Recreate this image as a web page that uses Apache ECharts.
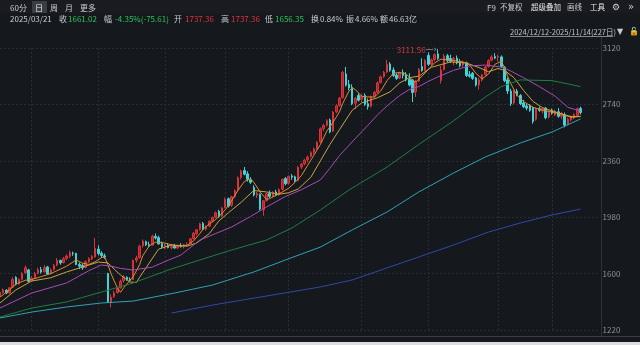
<!DOCTYPE html>
<html>
<head>
<meta charset="utf-8">
<script src="https://cdn.jsdelivr.net/npm/echarts@6/dist/echarts.min.js"></script>
<style>
  html, body { margin: 0; padding: 0; background: #15181d; }
  #chart { width: 640px; height: 345px; }
</style>
</head>
<body>
<div id="chart"></div>
<script>
// Trading days shown on the daily K-line
const categories = [
  '2025/02/17','2025/02/18','2025/02/19','2025/02/20','2025/02/21','2025/02/24','2025/02/25','2025/02/26','2025/02/27','2025/02/28',
  '2025/03/03','2025/03/04','2025/03/05','2025/03/06','2025/03/07','2025/03/10','2025/03/11','2025/03/12','2025/03/13','2025/03/14',
  '2025/03/17','2025/03/18','2025/03/19','2025/03/20','2025/03/21','2025/03/24','2025/03/25','2025/03/26','2025/03/27','2025/03/28','2025/03/31',
  '2025/04/01','2025/04/02','2025/04/03','2025/04/07','2025/04/08','2025/04/09','2025/04/10','2025/04/11','2025/04/14','2025/04/15',
  '2025/04/16','2025/04/17','2025/04/18','2025/04/21','2025/04/22','2025/04/23','2025/04/24','2025/04/25','2025/04/28','2025/04/29','2025/04/30',
  '2025/05/06','2025/05/07','2025/05/08','2025/05/09','2025/05/12','2025/05/13','2025/05/14','2025/05/15','2025/05/16','2025/05/19',
  '2025/05/20','2025/05/21','2025/05/22','2025/05/23','2025/05/26','2025/05/27','2025/05/28','2025/05/29','2025/05/30',
  '2025/06/03','2025/06/04','2025/06/05','2025/06/06','2025/06/09','2025/06/10','2025/06/11','2025/06/12','2025/06/13','2025/06/16',
  '2025/06/17','2025/06/18','2025/06/19','2025/06/20','2025/06/23','2025/06/24','2025/06/25','2025/06/26','2025/06/27','2025/06/30',
  '2025/07/01','2025/07/02','2025/07/03','2025/07/04','2025/07/07','2025/07/08','2025/07/09','2025/07/10','2025/07/11','2025/07/14',
  '2025/07/15','2025/07/16','2025/07/17','2025/07/18','2025/07/21','2025/07/22','2025/07/23','2025/07/24','2025/07/25','2025/07/28',
  '2025/07/29','2025/07/30','2025/07/31',
  '2025/08/01','2025/08/04','2025/08/05','2025/08/06','2025/08/07','2025/08/08','2025/08/11','2025/08/12','2025/08/13','2025/08/14',
  '2025/08/15','2025/08/18','2025/08/19','2025/08/20','2025/08/21','2025/08/22','2025/08/25','2025/08/26','2025/08/27','2025/08/28','2025/08/29',
  '2025/09/01','2025/09/02','2025/09/03','2025/09/04','2025/09/05','2025/09/08','2025/09/09','2025/09/10','2025/09/11','2025/09/12',
  '2025/09/15','2025/09/16','2025/09/17','2025/09/18','2025/09/19','2025/09/22','2025/09/23','2025/09/24','2025/09/25','2025/09/26',
  '2025/09/29','2025/09/30',
  '2025/10/09','2025/10/10','2025/10/13','2025/10/14','2025/10/15','2025/10/16','2025/10/17','2025/10/20','2025/10/21','2025/10/22',
  '2025/10/23','2025/10/24','2025/10/27','2025/10/28','2025/10/29','2025/10/30','2025/10/31',
  '2025/11/03','2025/11/04','2025/11/05','2025/11/06','2025/11/07','2025/11/10','2025/11/11','2025/11/12','2025/11/13','2025/11/14'
];

// Daily open / close / low / high
const opens = [
  1450,1472,1488,1470,1508,1575,1530,1562,1605,1625, 1550,1572,1602,1628,1612,1645,1600,1628,1658,1688,
  1675,1702,1716,1738,1737.36,1662,1655,1642,1680,1700, 1712,1765,1738,1720,1600,1405,1445,1472,1505,1552,
  1575,1562,1560,1690,1708,1788,1815,1796,1792,1850, 1842,1802,1782,1788,1776,1785,1773,1790,1783,1796,
  1802,1836,1870,1898,1938,1900,1920,1955,1980,2020, 1988,2045,2105,2060,2120,2162,2248,2295,2272,2230,
  2180,2128,2135,2030,2092,2140,2122,2150,2130,2168, 2240,2208,2258,2252,2228,2318,2340,2368,2390,2418,
  2442,2488,2578,2600,2635,2560,2690,2732,2785,2945, 2875,2855,2748,2800,2775,2800,2745,2728,2795,2822,
  2888,2928,2958,3012,2972,2938,2918,2955,2938,2910, 2905,2825,2898,2995,2970,3070,3012,3042,3080,2900,
  2975,3068,3050,3032,3052,3030,3005,3020,2940,2950, 2918,2872,2905,2940,2995,3038,3062,3058,3060,2990,
  2905,2830,2750,2830,2800,2750,2730,2735,2720,2640, 2710,2695,2715,2655,2700,2668,2690,2660,2670,2610,
  2635,2650,2665,2712
];
const closes = [
  1475,1490,1470,1505,1560,1528,1560,1600,1640,1548, 1570,1600,1625,1610,1640,1598,1625,1655,1690,1672,
  1700,1718,1740,1736.63,1661.02,1650,1640,1680,1702,1715, 1770,1735,1722,1712,1410,1440,1470,1500,1548,1578,
  1560,1555,1688,1705,1785,1818,1795,1790,1852,1840, 1800,1780,1790,1775,1785,1772,1790,1782,1795,1800,
  1835,1872,1895,1935,1898,1918,1952,1978,2010,1985, 2042,2100,2055,2118,2160,2245,2290,2270,2235,2215,
  2130,2140,2035,2090,2138,2120,2148,2128,2165,2235, 2205,2255,2250,2225,2315,2338,2365,2385,2415,2440,
  2485,2575,2598,2630,2555,2688,2730,2782,2955,2870, 2850,2745,2780,2768,2795,2740,2725,2792,2820,2885,
  2925,2955,3010,2970,2935,2915,2950,2935,2905,2870, 2820,2895,2975,2968,3035,3010,3040,3075,3050,2972,
  3065,3035,3030,3050,3020,3000,3025,2935,2930,2915, 2870,2905,2938,2992,3035,3060,3052,3065,2995,2900,
  2830,2745,2830,2805,2745,2725,2715,2700,2625,2710, 2700,2712,2650,2690,2680,2695,2660,2680,2600,2640,
  2652,2670,2710,2685
];
const lows = [
  1440,1465,1462,1466,1505,1520,1525,1555,1598,1540, 1545,1565,1595,1600,1608,1592,1594,1620,1650,1660,
  1668,1690,1705,1720,1656.35,1630,1625,1635,1672,1690, 1708,1722,1705,1700,1402,1372,1436,1465,1498,1540,
  1552,1548,1556,1675,1700,1775,1785,1778,1788,1830, 1795,1770,1765,1770,1762,1768,1765,1775,1770,1785,
  1798,1830,1858,1890,1892,1890,1912,1945,1972,1975, 1982,2040,2045,2050,2110,2155,2235,2262,2220,2205,
  2120,2110,2025,1990,2085,2110,2112,2120,2125,2160, 2195,2200,2232,2215,2222,2305,2330,2350,2382,2405,
  2435,2480,2560,2590,2545,2555,2680,2725,2780,2860, 2835,2735,2710,2760,2755,2730,2705,2720,2785,2815,
  2880,2918,2950,2960,2925,2905,2910,2915,2895,2860, 2756,2790,2890,2960,2965,3000,3000,3030,3040,2880,
  2968,3025,3020,3005,3010,2990,2990,2925,2920,2905, 2860,2840,2895,2935,2988,3030,3045,3030,2985,2890,
  2810,2730,2740,2795,2735,2715,2700,2690,2610,2630, 2690,2680,2640,2645,2670,2662,2650,2640,2585,2600,
  2625,2640,2660,2672
];
const highs = [
  1485,1500,1495,1510,1575,1582,1568,1610,1655,1632, 1585,1612,1640,1645,1658,1652,1635,1665,1705,1695,
  1712,1730,1755,1748,1737.36,1675,1668,1688,1710,1725, 1840,1790,1750,1735,1606,1460,1485,1512,1560,1590,
  1582,1575,1695,1720,1795,1830,1822,1815,1862,1870, 1855,1815,1800,1805,1795,1800,1795,1805,1800,1810,
  1840,1880,1900,1942,1948,1925,1960,1985,2018,2030, 2050,2112,2112,2125,2168,2255,2300,2318,2290,2250,
  2195,2150,2140,2095,2145,2160,2155,2165,2175,2240, 2250,2262,2270,2260,2325,2345,2372,2395,2425,2450,
  2492,2585,2610,2640,2645,2695,2740,2790,2965,2992, 2905,2875,2790,2815,2808,2815,2780,2800,2830,2895,
  2935,2965,3040,3025,2990,2950,2960,2975,2958,2950, 2910,2905,2985,3050,3045,3090,3050,3085,3111.56,3000,
  3080,3080,3075,3060,3070,3045,3035,3028,2965,2958, 2925,2920,2945,3000,3045,3072,3085,3075,3070,2998,
  2920,2845,2840,2845,2810,2770,2745,2740,2725,2720, 2725,2720,2722,2700,2712,2705,2715,2690,2685,2650,
  2665,2680,2720,2725
];

// Moving averages as [day index, value]
const ma5 = [
  [0,1442],[3,1490],[5,1530],[8,1555],[10,1560],[13,1580],[16,1600],[19,1630],[21,1650],[24,1692],
  [26,1670],[28,1662],[30,1680],[32,1708],[33,1712],[34,1660],[35,1600],[36,1550],[37,1505],[38,1474],
  [39,1505],[40,1530],[42,1580],[44,1660],[45,1720],[47,1785],[49,1812],[51,1810],[53,1800],[55,1790],
  [57,1785],[59,1790],[61,1820],[63,1870],[64,1900],[66,1935],[68,1965],[69,1985],[71,2030],[73,2090],
  [75,2160],[77,2220],[79,2240],[80,2215],[82,2150],[84,2100],[85,2105],[87,2128],[89,2150],[91,2175],
  [93,2215],[95,2260],[97,2330],[99,2400],[101,2470],[103,2560],[105,2620],[107,2690],[108,2745],[110,2830],
  [111,2850],[112,2840],[114,2795],[116,2790],[118,2790],[120,2830],[122,2900],[124,2950],[126,2955],[128,2945],
  [130,2905],[131,2890],[133,2930],[135,2975],[137,3020],[139,3045],[141,3040],[143,3035],[146,3025],[148,3005],
  [150,2950],[152,2912],[154,2945],[156,3010],[158,3030],[159,2990],[160,2930],[161,2880],[163,2800],[165,2760],
  [168,2720],[171,2702],[174,2688],[177,2675],[180,2652],[183,2660]
];
const ma10 = [
  [0,1402],[5,1490],[10,1550],[16,1572],[21,1611],[26,1644],[31,1678],[34,1672],[36,1630],[38,1590],
  [41,1543],[43,1540],[44,1575],[47,1670],[50,1765],[54,1793],[59,1785],[62,1806],[66,1870],[69,1955],
  [72,2010],[76,2080],[80,2160],[84,2150],[88,2135],[91,2145],[94,2170],[98,2250],[101,2360],[104,2470],
  [107,2570],[111,2700],[114,2750],[119,2785],[123,2825],[126,2885],[129,2920],[132,2930],[136,2990],[142,3026],
  [147,3019],[151,2988],[154,2960],[157,2982],[159,2970],[162,2920],[165,2835],[168,2760],[171,2718],[176,2682],
  [180,2658],[183,2658]
];
const ma20 = [
  [0,1368],[10,1469],[21,1537],[28,1620],[32,1658],[35,1650],[38,1635],[42,1624],[48,1644],[53,1690],
  [57,1725],[63,1826],[68,1870],[73,1914],[79,1985],[84,2049],[90,2120],[95,2165],[101,2231],[104,2310],
  [107,2395],[112,2510],[116,2600],[119,2670],[122,2730],[126,2800],[129,2840],[132,2860],[135,2895],[138,2925],
  [143,2970],[148,2999],[153,3005],[158,2992],[161,2965],[165,2920],[170,2860],[175,2795],[179,2720],[183,2695]
];
const ma60 = [
  [0,1307],[10,1368],[21,1409],[32,1476],[42,1537],[53,1624],[63,1692],[73,1759],[84,1826],[92,1907],
  [101,2029],[110,2163],[122,2318],[132,2470],[143,2630],[153,2790],[158,2860],[164,2905],[174,2900],[183,2860]
];
const ma120 = [
  [0,1301],[10,1341],[21,1375],[32,1402],[42,1415],[55,1469],[67,1523],[80,1611],[90,1692],[101,1779],
  [111,1894],[122,2015],[132,2150],[143,2278],[153,2386],[164,2480],[174,2554],[183,2642]
];
const ma250 = [
  [54,1334],[67,1388],[101,1510],[111,1557],[121,1631],[132,1712],[143,1793],[154,1880],[164,1941],[174,1995],[183,2035]
];

const priceTicks = [1220, 1600, 1980, 2360, 2740, 3120];
const peakHigh = 3111.56;
// first trading day of each month: vertical grid positions
const monthStarts = [10, 31, 52, 71, 91, 114, 135, 157, 174];

// blank slots on the right so the plot reaches the price axis
const axisCats = categories.concat(['', '', '', '', '', '']);
const kData = opens.map((o, i) => [o, closes[i], lows[i], highs[i]]);
const peakIndex = highs.indexOf(peakHigh);

const BG = '#15181d';
const GRID = '#2a2d33';
const LABEL = '#c9cbcf';
const UP = '#e0353b';
const DOWN = '#2fc25b';
const FONT = '"Noto Sans CJK SC", "Liberation Sans", sans-serif';

function txt(x, y, text, fill, opts) {
  return {
    type: 'text', silent: true,
    style: Object.assign({ x: x, y: y, text: text, fill: fill, font: '8px ' + FONT, verticalAlign: 'middle' }, opts || {})
  };
}

const chart = echarts.init(document.getElementById('chart'), null, { renderer: 'canvas' });

const maLine = (data, color) => ({
  type: 'line', data: data, symbol: 'none', silent: true, connectNulls: true,
  lineStyle: { color: color, width: 1 }, z: 3
});

chart.setOption({
  backgroundColor: BG,
  animation: false,
  grid: { left: -0.5, right: 40.4, top: 48, bottom: 15 },
  xAxis: {
    type: 'category', data: axisCats, boundaryGap: false,
    axisLine: { show: false }, axisTick: { show: false }, axisLabel: { show: false },
    splitLine: {
      show: true,
      interval: (idx) => monthStarts.indexOf(idx) >= 0,
      lineStyle: { color: GRID, type: [2, 2], width: 1 }
    }
  },
  yAxis: {
    type: 'value', position: 'right', min: priceTicks[0], max: priceTicks[priceTicks.length - 1],
    interval: priceTicks[1] - priceTicks[0],
    axisLine: { show: false }, axisTick: { show: false },
    axisLabel: { color: '#8e9197', fontSize: 8, margin: 3, fontFamily: FONT, formatter: (v) => String(v) },
    splitLine: { lineStyle: { color: GRID, type: [2, 2], width: 1 } }
  },
  series: [
    {
      type: 'candlestick', data: kData, barWidth: 2, silent: true, z: 2,
      itemStyle: { color: '#b51f26', color0: '#3fd3da', borderColor: '#d8343a', borderColor0: '#3fd3da', borderWidth: 1 },
      markPoint: {
        symbol: 'circle', symbolSize: 0, silent: true,
        data: [{ coord: [peakIndex, peakHigh], value: peakHigh }],
        label: {
          show: true, position: 'left', distance: 1, offset: [0, 1],
          formatter: () => '{v|' + peakHigh.toFixed(2) + '}{a|—›}',
          rich: {
            v: { color: '#d8373e', fontSize: 8, fontFamily: FONT },
            a: { color: '#9a9ca1', fontSize: 8, fontFamily: 'DejaVu Sans' }
          }
        }
      }
    },
    maLine(ma5, '#e08a2e'),
    maLine(ma10, '#c6a445'),
    maLine(ma20, '#a84db4'),
    maLine(ma60, '#1f7f43'),
    maLine(ma120, '#2fa3b3'),
    maLine(ma250, '#2d4aa8')
  ],
  graphic: [
    // frame of the price pane
    { type: 'rect', silent: true, shape: { x: 0, y: 0, width: 640, height: 13 }, style: { fill: '#191b20' }, z: -1 },
    { type: 'line', silent: true, shape: { x1: 601.5, y1: 37, x2: 601.5, y2: 336 }, style: { stroke: '#2e3137', lineWidth: 1 } },
    { type: 'line', silent: true, shape: { x1: 0, y1: 336.5, x2: 640, y2: 336.5 }, style: { stroke: '#3a3d43', lineWidth: 1 } },
    { type: 'rect', silent: true, shape: { x: 0, y: 342, width: 640, height: 3 }, style: { fill: '#dcdde0' }, z: 10 },
    // period tabs
    { type: 'rect', silent: true, shape: { x: 32, y: 1, width: 15, height: 12 }, style: { fill: '#3a3d44' } },
    txt(10, 7.5, '60分', LABEL),
    txt(35, 7.5, '日', '#e6e7ea'),
    txt(50, 7.5, '周', LABEL),
    txt(65, 7.5, '月', LABEL),
    txt(80, 7.5, '更多', LABEL),
    // quote of the selected day
    txt(10, 19, '2025/03/21', LABEL),
    txt(59, 19, '收', LABEL),
    txt(68, 19, '1661.02', DOWN),
    txt(104, 19, '幅', LABEL),
    txt(115, 19, '-4.35%(-75.61)', DOWN),
    txt(174, 19, '开', LABEL),
    txt(185, 19, '1737.36', UP),
    txt(221, 19, '高', LABEL),
    txt(231, 19, '1737.36', UP),
    txt(265, 19, '低', LABEL),
    txt(275, 19, '1656.35', DOWN),
    txt(311, 19, '换', LABEL),
    txt(320, 19, '0.84%', LABEL),
    txt(346, 19, '振', LABEL),
    txt(355, 19, '4.66%', LABEL),
    txt(380, 19, '额', LABEL),
    txt(389, 19, '46.63亿', LABEL),
    // toolbar
    txt(487, 7.5, 'F9', LABEL),
    txt(500, 7.5, '不复权', LABEL, { font: '7.5px ' + FONT }),
    txt(531, 7.5, '超级叠加', '#e6e7ea', { font: '7.5px ' + FONT }),
    txt(567, 7.5, '画线', LABEL, { font: '7.5px ' + FONT }),
    txt(590, 7.5, '工具', '#e6e7ea', { font: '7.5px ' + FONT }),
    txt(612, 7.5, '⚙', LABEL, { font: '9px "DejaVu Sans"' }),
    txt(628, 7.5, '»', LABEL, { font: '10px "DejaVu Sans"' }),
    // range selector
    txt(510, 32, '2024/12/12-2025/11/14(227日)', '#c2c4c8', { font: '7.5px ' + FONT }),
    { type: 'line', silent: true, shape: { x1: 510, y1: 36.5, x2: 613, y2: 36.5 }, style: { stroke: '#a0a2a6', lineWidth: 0.8 } },
    txt(617, 32, '▼', '#c9cbcf', { font: '8px "DejaVu Sans"' }),
    txt(629, 32, '🔓', '#d99a1e', { font: '8px "DejaVu Sans"' })
  ]
});
</script>
</body>
</html>
